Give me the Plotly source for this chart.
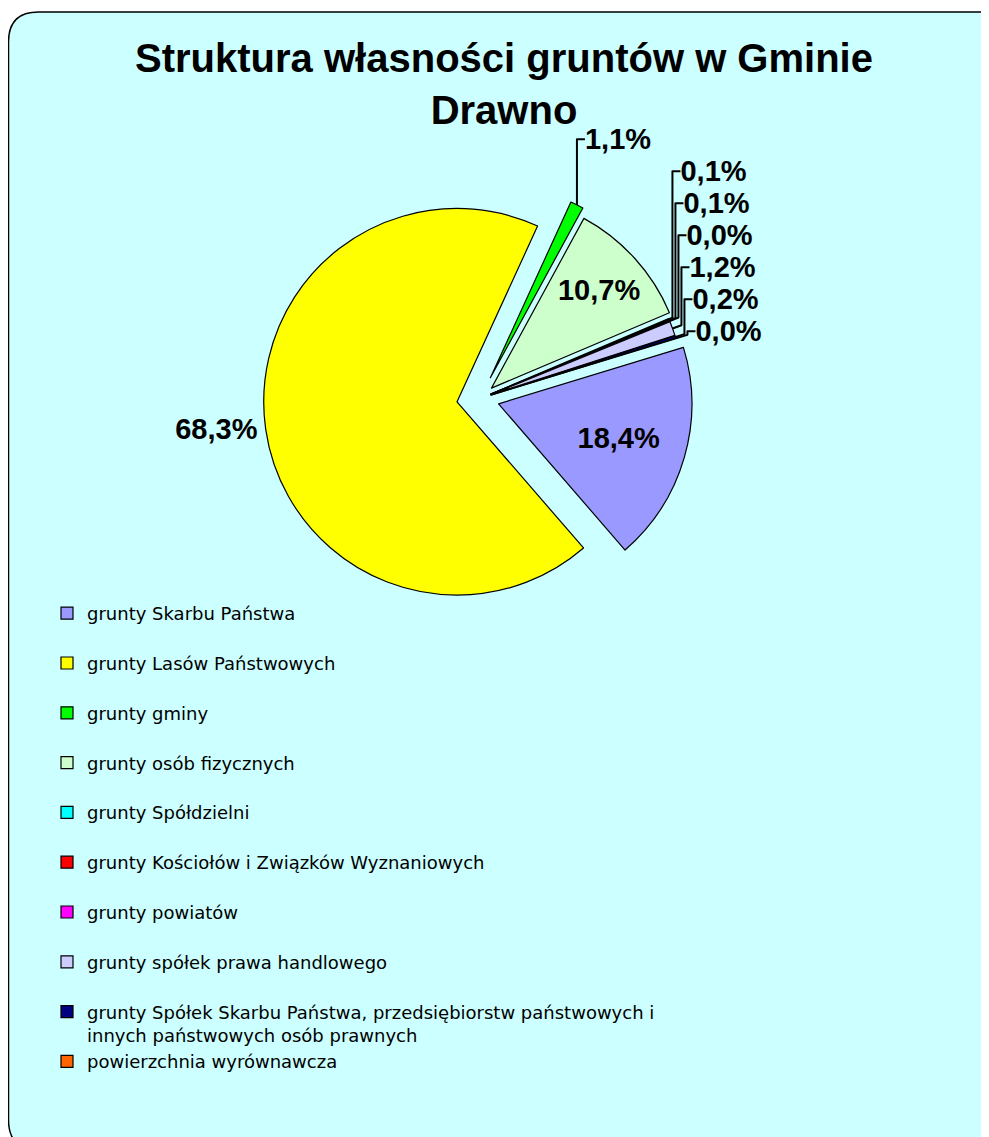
import plotly.graph_objects as go

# ---- data ----
categories = [
    "grunty Skarbu Państwa",
    "grunty Lasów Państwowych",
    "grunty gminy",
    "grunty osób fizycznych",
    "grunty Spółdzielni",
    "grunty Kościołów i Związków Wyznaniowych",
    "grunty powiatów",
    "grunty spółek prawa handlowego",
    "grunty Spółek Skarbu Państwa, przedsiębiorstw państwowych i<br>innych państwowych osób prawnych",
    "powierzchnia wyrównawcza",
]
shares = [18.4, 68.3, 1.1, 10.7, 0.1, 0.1, 0.03, 1.2, 0.2, 0.03]
colors = ["#9999FF", "#FFFF00", "#00FF00", "#CCFFCC", "#00FFFF",
          "#FF0000", "#FF00FF", "#CCCCFF", "#000080", "#FF6600"]
label_pos = ["inside", "outside", "outside", "inside", "outside",
             "outside", "outside", "outside", "outside", "outside"]
pulls = [0.10, 0.12, 0.12, 0.08, 0.06, 0.06, 0.06, 0.06, 0.06, 0.06]

pct_text = [f"{v:.1f}%".replace(".", ",") for v in shares]
# extra blank line so legend entries are spaced like the original
legend_names = [c if "<br>" in c or i == len(categories) - 1 else c + "<br> "
                for i, c in enumerate(categories)]

W, H = 989, 1137
OFF = 8  # page body margin


def px_x(p):
    return (p - OFF) / W


def px_y(p):
    return 1 - (p - OFF) / H


fig = go.Figure(go.Pie(
    labels=legend_names,
    values=shares,
    text=pct_text,
    textinfo="text",
    textposition=label_pos,
    insidetextorientation="horizontal",
    sort=False,
    direction="clockwise",
    rotation=73,
    pull=pulls,
    marker=dict(colors=colors, line=dict(color="black", width=1.2)),
    textfont=dict(family="Liberation Sans, Arial", size=29, color="black", weight="bold"),
    domain=dict(x=[px_x(100), px_x(860)], y=[px_y(615), px_y(182)]),
    hoverinfo="label+percent",
))

# rounded chart-area frame (light cyan)
x0, y0, x1, y1, r = px_x(8.5), px_y(12), px_x(1010), px_y(1150), 30
rx, ry = r / W, r / H
path = (f"M {x0+rx},{y0} L {x1-rx},{y0} Q {x1},{y0} {x1},{y0-ry} "
        f"L {x1},{y1+ry} Q {x1},{y1} {x1-rx},{y1} "
        f"L {x0+rx},{y1} Q {x0},{y1} {x0},{y1+ry} "
        f"L {x0},{y0-ry} Q {x0},{y0} {x0+rx},{y0} Z")

fig.update_layout(
    width=W, height=H,
    margin=dict(l=0, r=0, t=0, b=0, autoexpand=False),
    paper_bgcolor="white",
    shapes=[dict(type="path", xref="paper", yref="paper", path=path,
                 fillcolor="#CCFFFF", line=dict(color="black", width=1.5),
                 layer="below")],
    title=dict(
        text="Struktura własności gruntów w Gminie<br>Drawno",
        x=px_x(504), xanchor="center", y=px_y(72), yanchor="middle",
        font=dict(family="Liberation Sans, Arial", size=40, color="black", weight="bold"),
    ),
    showlegend=True,
    legend=dict(
        x=px_x(47), xanchor="left", y=px_y(595), yanchor="top",
        valign="top",
        bgcolor="rgba(0,0,0,0)",
        font=dict(family="DejaVu Sans, Liberation Sans", size=18, color="black"),
        traceorder="normal",
    ),
)

fig.write_html("out.html")
